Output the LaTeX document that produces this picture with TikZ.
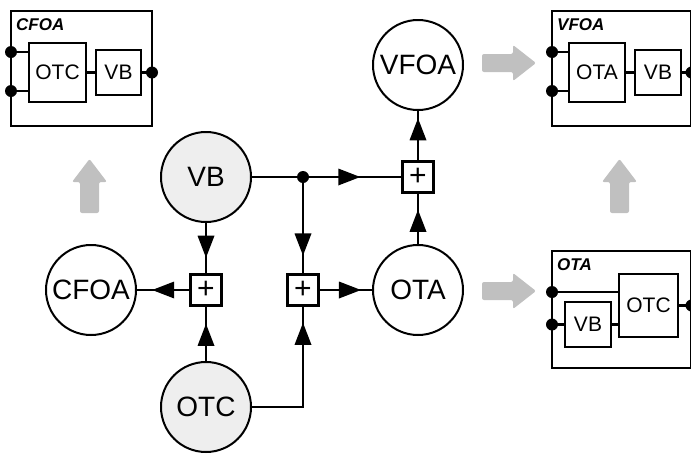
\documentclass[tikz,border=0pt]{standalone}
\usepackage{fontspec}
\setmainfont{Liberation Sans}
\usetikzlibrary{decorations.markings}
\definecolor{lightfill}{HTML}{EEEEEE}
\definecolor{arrowgray}{HTML}{C0C0C0}
\tikzset{
  bigc/.style={circle, draw, line width=2pt, minimum size=90pt, inner sep=0pt, font=\fontsize{28}{28}\selectfont},
  plusbox/.style={draw, line width=2.2pt, minimum size=31pt, inner sep=0pt, font=\fontsize{30}{30}\selectfont},
  sbox/.style={draw, line width=2.2pt, inner sep=0pt, font=\fontsize{21}{21}\selectfont},
  outerbox/.style={draw, line width=2.2pt},
  ttl/.style={anchor=base west, inner sep=0pt, font=\fontsize{17}{17}\selectfont\bfseries\itshape},
  dotc/.style={circle, fill=black, inner sep=0pt, minimum size=12pt},
  thin/.style={line width=2.2pt},
  conn/.style={line width=2.4pt},
  midarr/.style={conn, postaction={decorate}, decoration={markings, mark=at position #1 with {\fill (-11,-8.5) -- (11,0) -- (-11,8.5) -- cycle;}}},
  grayarrow/.style={fill=arrowgray, draw=none, rounded corners=2pt}
}
\begin{document}
\begin{tikzpicture}[x=1pt, y=-1pt]
\useasboundingbox (0,0) rectangle (691,453);
\clip (0,0) rectangle (691,453);

% ---------- CFOA macro box ----------
\draw[outerbox] (11,11) rectangle (152,126);
\node[ttl] at (16,30) {CFOA};
\node[sbox, minimum width=57pt, minimum height=59pt] (cOTC) at (57.5,72.5) {OTC};
\node[sbox, minimum width=45pt, minimum height=45pt] (cVB) at (118.5,72.5) {VB};
\node[dotc] (cd1) at (11,52) {};
\node[dotc] (cd2) at (11,91) {};
\node[dotc] (cdo) at (152,72.5) {};
\draw[thin] (cd1.center) -- (cd1.center -| cOTC.west);
\draw[thin] (cd2.center) -- (cd2.center -| cOTC.west);
\draw[thin] (cOTC.east) -- (cVB.west);
\draw[thin] (cVB.east) -- (cdo.center);

% ---------- VFOA macro box ----------
\draw[outerbox] (552,11) rectangle (691.5,126);
\node[ttl] at (557,30) {VFOA};
\node[sbox, minimum width=56pt, minimum height=59pt] (vOTA) at (597,72.5) {OTA};
\node[sbox, minimum width=46pt, minimum height=45pt] (vVB) at (658,72.5) {VB};
\node[dotc] (vd1) at (552,52) {};
\node[dotc] (vd2) at (552,91) {};
\node[dotc] (vdo) at (691.5,72.5) {};
\draw[thin] (vd1.center) -- (vd1.center -| vOTA.west);
\draw[thin] (vd2.center) -- (vd2.center -| vOTA.west);
\draw[thin] (vOTA.east) -- (vVB.west);
\draw[thin] (vVB.east) -- (vdo.center);

% ---------- OTA macro box ----------
\draw[outerbox] (552,251) rectangle (691.5,368);
\node[ttl] at (557,270) {OTA};
\node[sbox, minimum width=59pt, minimum height=63pt] (oOTC) at (648.5,305.5) {OTC};
\node[sbox, minimum width=46pt, minimum height=45pt] (oVB) at (588,324.5) {VB};
\node[dotc] (od1) at (552,292) {};
\node[dotc] (od2) at (552,324.5) {};
\node[dotc] (odo) at (691.5,305.5) {};
\draw[thin] (od1.center) -- (od1.center -| oOTC.west);
\draw[thin] (od2.center) -- (oVB.west);
\draw[thin] (oVB.east) -- (oVB.east -| oOTC.west);
\draw[thin] (oOTC.east) -- (odo.center);

% ---------- gray arrows ----------
\fill[grayarrow] (80,213) -- (80,182) -- (72,182) -- (89.5,159) -- (107,182) -- (99,182) -- (99,213) -- cycle;
\fill[grayarrow] (610,213) -- (610,182) -- (602,182) -- (619.5,159) -- (637,182) -- (629,182) -- (629,213) -- cycle;
\fill[grayarrow] (482,54) -- (513,54) -- (513,45) -- (536,63) -- (513,81) -- (513,72) -- (482,72) -- cycle;
\fill[grayarrow] (482,282) -- (513,282) -- (513,273) -- (536,291) -- (513,309) -- (513,300) -- (482,300) -- cycle;

% ---------- main graph ----------
\node[bigc, fill=lightfill] (VB) at (206,177) {VB};
\node[bigc, fill=lightfill] (OTC) at (206,407) {OTC};
\node[bigc, fill=white] (CFOA) at (91,290) {CFOA};
\node[bigc, fill=white] (OTA) at (418,290) {OTA};
\node[bigc, fill=white] (VFOA) at (418,65) {VFOA};
\node[plusbox] (P1) at (418,177) {+};
\node[plusbox] (P2) at (206,290) {+};
\node[plusbox] (P3) at (303,290) {+};
\coordinate (J) at (303,177);

\draw[conn] (VB) -- (J);
\draw[midarr=0.47] (J) -- (P1.west);
\draw[midarr=0.47] (VB) -- (P2.north);
\draw[midarr=0.70] (J) -- (P3.north);
\draw[midarr=0.58] (P3.east) -- (OTA.west);
\draw[midarr=0.46] (OTA.north) -- (P1.south);
\draw[midarr=0.63] (P1.north) -- (VFOA.south);
\draw[midarr=0.50] (P2.west) -- (CFOA.east);
\draw[midarr=0.48] (OTC.north) -- (P2.south);
\draw[midarr=0.82] (OTC.east) -| (P3.south);
\node[dotc, minimum size=12pt] at (J) {};
\end{tikzpicture}
\end{document}
